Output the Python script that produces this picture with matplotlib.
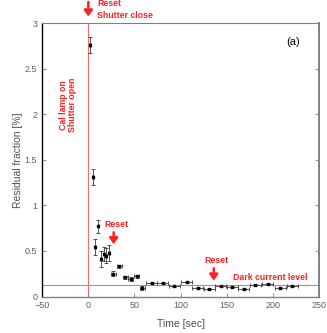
import matplotlib
matplotlib.use("Agg")
import matplotlib.pyplot as plt

plt.rcParams['font.family'] = ['Liberation Sans', 'DejaVu Sans']

time_s = [2, 5, 11, 7.5, 14, 16.5, 19, 22.5, 27, 33.5, 40, 46, 52.5, 58.5,
          68.5, 80.5, 93, 106.5, 118.5, 131, 143.5, 156, 168.5, 181, 194.5, 208, 221]
residual = [2.76, 1.31, 0.77, 0.545, 0.41, 0.465, 0.45, 0.48, 0.25, 0.33, 0.21, 0.19, 0.22, 0.095,
            0.145, 0.145, 0.11, 0.155, 0.09, 0.08, 0.11, 0.105, 0.08, 0.125, 0.135, 0.095, 0.11]
residual_err = [0.09, 0.09, 0.07, 0.09, 0.09, 0.08, 0.08, 0.09, 0.025, 0.02, 0.02, 0.02, 0.02, 0.02,
                0.01, 0.01, 0.01, 0.01, 0.01, 0.01, 0.01, 0.01, 0.01, 0.01, 0.01, 0.01, 0.01]
time_err = [1, 1, 1, 1, 1, 1, 1, 1, 2.5, 2.5, 2.5, 2.5, 2.5, 2.5,
            6, 6, 6, 6, 6, 6, 6, 6, 6, 6, 6, 6, 6]
dark_level = 0.123

fig = plt.figure(figsize=(3.27, 3.33), dpi=100)
ax = fig.add_axes([0.129, 0.1096, 0.8465, 0.8204])

red = '#ff2020'
ax.axvline(0, color='#f07070', lw=0.8, zorder=1)
ax.axhline(dark_level, color='#f07070', lw=0.8, zorder=1)

ax.errorbar(time_s, residual, yerr=residual_err, xerr=time_err, fmt='s', color='black',
            ms=1.5, elinewidth=0.6, capsize=1.5, capthick=0.6, ecolor='#383838', zorder=3)

ax.set_xlim(-50, 250)
ax.set_ylim(0, 3)
ax.set_xticks([-50, 0, 50, 100, 150, 200, 250])
ax.set_yticks([0, 0.5, 1, 1.5, 2, 2.5, 3])
ax.set_yticklabels(['0', '0.5', '1', '1.5', '2', '2.5', '3'])
ax.tick_params(direction='in', labelsize=6.5, length=3, width=0.6, colors='#808080',
               labelcolor='#606060', right=True, top=False)
for s in ['top', 'right', 'bottom']:
    ax.spines[s].set_color('#808080')
ax.spines['top'].set_linewidth(0.8)
ax.spines['right'].set_linewidth(1.4)
ax.spines['bottom'].set_linewidth(1.0)
ax.spines['left'].set_color('black')
ax.spines['left'].set_linewidth(1.0)

ax.set_xlabel('Time [sec]', fontsize=7.5, color='#505050', labelpad=6)
ax.set_ylabel('Residual fraction [%]', fontsize=7.5, color='#505050', labelpad=1)

ax.text(0.93, 0.93, '(a)', transform=ax.transAxes, fontsize=8, ha='right', va='center', color='black')

arrow = dict(arrowstyle='-|>,head_width=0.25,head_length=0.35', color=red, lw=1.8,
             shrinkA=0, shrinkB=0)
tk = dict(color=red, fontsize=6.3, fontweight='bold')

# top reset
ax.annotate('', xy=(0, 3.075), xytext=(0, 3.235), arrowprops=arrow, annotation_clip=False)
ax.text(9.5, 3.22, 'Reset', ha='left', va='center', clip_on=False, **tk)
ax.text(9.5, 3.09, 'Shutter close', ha='left', va='center', clip_on=False, **tk)

ax.text(-22, 2.10, 'Cal lamp on\nShutter open', rotation=90, ha='center', va='center',
        multialignment='center', linespacing=1.1, **tk)

# reset ~27 s
ax.annotate('', xy=(27.5, 0.575), xytext=(27.5, 0.705), arrowprops=arrow)
ax.text(17, 0.79, 'Reset', ha='left', va='center', **tk)

# reset ~136 s
ax.annotate('', xy=(136, 0.175), xytext=(136, 0.31), arrowprops=arrow)
ax.text(126, 0.39, 'Reset', ha='left', va='center', **tk)

ax.text(157, 0.21, 'Dark current level', ha='left', va='center', **tk)

fig.savefig('out.png', dpi=100)
